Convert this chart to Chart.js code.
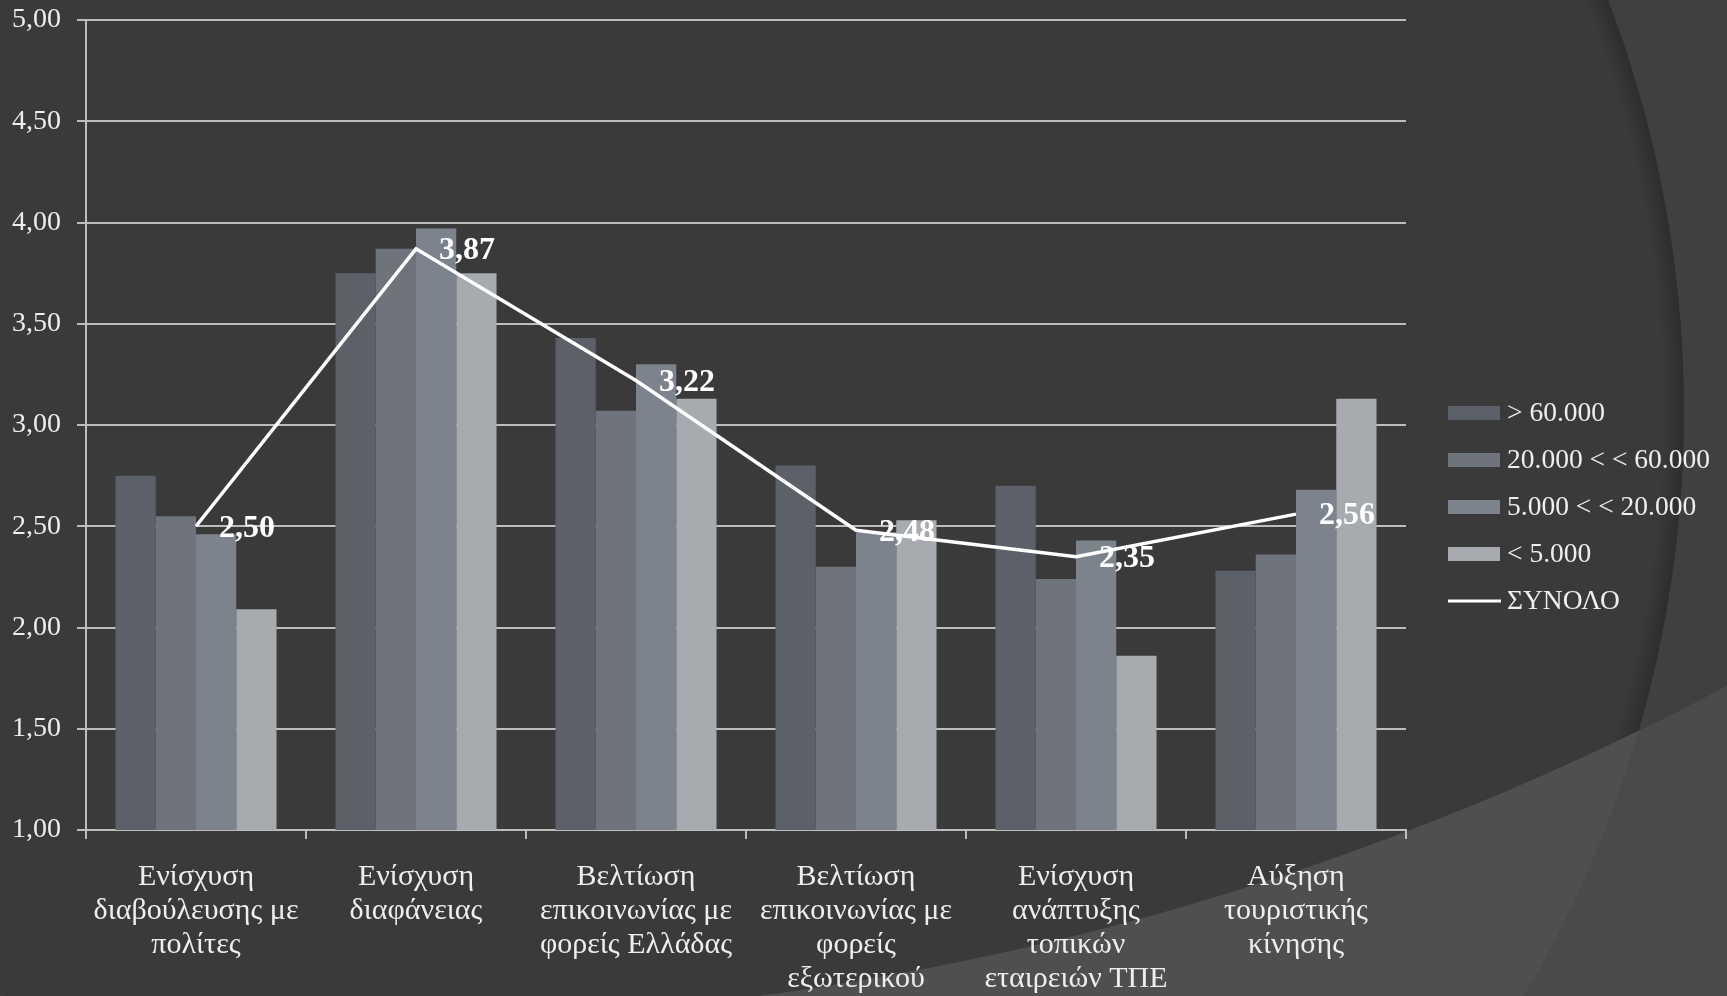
<!DOCTYPE html>
<html>
<head>
<meta charset="utf-8">
<script src="https://cdn.jsdelivr.net/npm/chart.js@4.4.1/dist/chart.umd.min.js"></script>
<style>
  html, body { margin: 0; padding: 0; background: #3a3a3a; overflow: hidden; }
  #c { display: block; }
</style>
</head>
<body>
<canvas id="c" width="1727" height="996"></canvas>
<script>
// ---- data ----
const categories = [
  ['Ενίσχυση', 'διαβούλευσης με', 'πολίτες'],
  ['Ενίσχυση', 'διαφάνειας'],
  ['Βελτίωση', 'επικοινωνίας με', 'φορείς Ελλάδας'],
  ['Βελτίωση', 'επικοινωνίας με', 'φορείς', 'εξωτερικού'],
  ['Ενίσχυση', 'ανάπτυξης', 'τοπικών', 'εταιρειών ΤΠΕ'],
  ['Αύξηση', 'τουριστικής', 'κίνησης']
];
const seriesNames = ['> 60.000', '20.000 < < 60.000', '5.000 < < 20.000', '< 5.000', 'ΣΥΝΟΛΟ'];
const over60k   = [2.75, 3.75, 3.43, 2.80, 2.70, 2.28];
const from20to60k = [2.55, 3.87, 3.07, 2.30, 2.24, 2.36];
const from5to20k  = [2.46, 3.97, 3.30, 2.47, 2.43, 2.68];
const under5k   = [2.09, 3.75, 3.13, 2.53, 1.86, 3.13];
const total     = [2.50, 3.87, 3.22, 2.48, 2.35, 2.56];
const yTicks = { min: 1, max: 5, step: 0.5 };

const barColors = ['#5c6169', '#6e737c', '#7d838d', '#a7aaaf'];
const gridColor = '#bdbdbd';
const textColor = '#eeeeee';

// ---- background plugin ----
const bgPlugin = {
  id: 'bg',
  beforeDraw(chart) {
    const ctx = chart.ctx;
    const W = chart.width, H = chart.height;
    ctx.save();
    ctx.fillStyle = '#404040';
    ctx.fillRect(0, 0, W, H);
    ctx.beginPath();
    ctx.arc(534, 411, 1150, 0, Math.PI * 2);
    ctx.fillStyle = '#3a3a3a';
    ctx.fill();
    const g = ctx.createRadialGradient(534, 411, 1128, 534, 411, 1150);
    g.addColorStop(0, 'rgba(0,0,0,0)');
    g.addColorStop(1, 'rgba(0,0,0,0.22)');
    ctx.beginPath();
    ctx.arc(534, 411, 1150, 0, Math.PI * 2);
    ctx.arc(534, 411, 1128, 0, Math.PI * 2, true);
    ctx.fillStyle = g;
    ctx.fill();
    ctx.beginPath();
    ctx.rect(0, 0, W, H);
    ctx.arc(381.5, -1848, 2869, 0, Math.PI * 2, true);
    ctx.clip('evenodd');
    ctx.fillStyle = '#4a4a4a';
    ctx.fillRect(0, 0, W, H);
    ctx.beginPath();
    ctx.arc(534, 411, 1150, 0, Math.PI * 2);
    ctx.fillStyle = '#4f4f4f';
    ctx.fill();
    ctx.restore();
  }
};

// ---- data labels for the total line ----
const labelPlugin = {
  id: 'totLabels',
  afterDatasetsDraw(chart) {
    const ctx = chart.ctx;
    const meta = chart.getDatasetMeta(4);
    ctx.save();
    ctx.font = 'bold 32px "Liberation Serif", serif';
    ctx.fillStyle = '#ffffff';
    ctx.textAlign = 'left';
    ctx.textBaseline = 'middle';
    meta.data.forEach((pt, i) => {
      const v = chart.data.datasets[4].data[i];
      ctx.fillText(v.toFixed(2).replace('.', ','), pt.x + 23, pt.y + 2);
    });
    ctx.restore();
  }
};

// ---- custom legend ----
const legendPlugin = {
  id: 'customLegend',
  afterDraw(chart) {
    const ctx = chart.ctx;
    const x0 = 1448, boxW = 52, boxH = 14, textX = 1507;
    const y0 = 413, dy = 47;
    ctx.save();
    ctx.font = '27.5px "Liberation Serif", serif';
    ctx.textAlign = 'left';
    ctx.textBaseline = 'middle';
    chart.data.datasets.forEach((ds, i) => {
      const y = y0 + i * dy;
      if (ds.type === 'line') {
        ctx.strokeStyle = ds.borderColor;
        ctx.lineWidth = 3;
        ctx.beginPath();
        ctx.moveTo(x0, y);
        ctx.lineTo(x0 + boxW + 1, y);
        ctx.stroke();
      } else {
        ctx.fillStyle = ds.backgroundColor;
        ctx.fillRect(x0, y - boxH / 2, boxW, boxH);
      }
      ctx.fillStyle = textColor;
      ctx.fillText(ds.label, textX, y + 1);
    });
    ctx.restore();
  }
};

const barSets = [over60k, from20to60k, from5to20k, under5k].map((d, i) => ({
  type: 'bar',
  label: seriesNames[i],
  data: d,
  backgroundColor: barColors[i],
  borderWidth: 0,
  barPercentage: 1.0,
  categoryPercentage: 0.732,
  order: 1
}));

new Chart(document.getElementById('c'), {
  data: {
    labels: categories,
    datasets: [
      ...barSets,
      {
        type: 'line',
        label: seriesNames[4],
        data: total,
        borderColor: '#ffffff',
        backgroundColor: '#ffffff',
        borderWidth: 3.5,
        pointRadius: 0,
        tension: 0,
        fill: false,
        order: 0
      }
    ]
  },
  options: {
    responsive: false,
    animation: false,
    devicePixelRatio: 1,
    layout: { padding: { top: 20, right: 321, bottom: 0, left: 0 } },
    plugins: {
      legend: { display: false },
      tooltip: { enabled: false }
    },
    scales: {
      x: {
        type: 'category',
        offset: true,
        grid: {
          offset: true,
          drawOnChartArea: false,
          drawTicks: true,
          tickLength: 9,
          color: gridColor,
          lineWidth: 2
        },
        border: { display: true, color: gridColor, width: 2 },
        ticks: {
          color: textColor,
          padding: 21,
          maxRotation: 0,
          autoSkip: false,
          font: { family: '"Liberation Serif", serif', size: 30, lineHeight: 1.13 }
        },
        afterFit(scale) {
          scale.height = 166;
          scale.paddingLeft = 0; scale.paddingRight = 0;
        }
      },
      y: {
        min: yTicks.min,
        max: yTicks.max,
        grid: {
          color: gridColor,
          lineWidth: 2,
          tickLength: 9,
          drawTicks: true
        },
        border: { display: true, color: gridColor, width: 2 },
        ticks: {
          stepSize: yTicks.step,
          color: textColor,
          padding: 16,
          font: { family: '"Liberation Serif", serif', size: 28 },
          callback: (v) => Number(v).toFixed(2).replace('.', ',')
        },
        afterFit(scale) {
          scale.width = 86;
          scale.paddingTop = 0; scale.paddingBottom = 0;
        }
      }
    }
  },
  plugins: [bgPlugin, labelPlugin, legendPlugin]
});
</script>
</body>
</html>
